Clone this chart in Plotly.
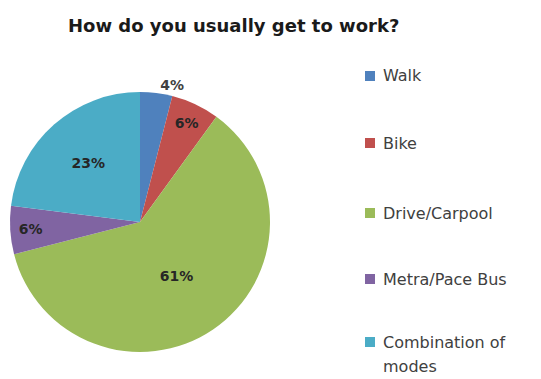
import plotly.graph_objects as go

W, H = 541, 379

categories = ["Walk", "Bike", "Drive/Carpool", "Metra/Pace Bus", "Combination of modes"]
legend_lines = [["Walk"], ["Bike"], ["Drive/Carpool"], ["Metra/Pace Bus"], ["Combination of", "modes"]]
values = [4, 6, 61, 6, 23]
colors = ["#4F81BD", "#C0504D", "#9BBB59", "#8064A2", "#4BACC6"]
text_positions = ["outside", "inside", "inside", "inside", "inside"]
title_text = "How do you usually get to work?"

def px_x(x):
    return x / W

def px_y(y):
    return 1 - y / H

fig = go.Figure()
fig.add_trace(go.Pie(
    labels=categories,
    values=values,
    sort=False,
    direction="clockwise",
    rotation=0,
    marker=dict(colors=colors, line=dict(width=0)),
    textinfo="percent",
    texttemplate="%{percent:.0%}",
    textposition=text_positions,
    insidetextorientation="horizontal",
    textfont=dict(family="DejaVu Sans", size=14, color="#262626", weight="bold"),
    outsidetextfont=dict(family="DejaVu Sans", size=14, color="#404040", weight="bold"),
    domain=dict(x=[px_x(10), px_x(270)], y=[px_y(352), px_y(92)]),
    showlegend=False,
    hole=0,
))

# manual legend
legend_centers = [76, 143, 213, 279, 342]
line_gap = 24
shapes = []
annotations = []
for lines, col, cy in zip(legend_lines, colors, legend_centers):
    shapes.append(dict(type="rect", xref="paper", yref="paper",
                       x0=px_x(365), x1=px_x(375), y0=px_y(cy + 5), y1=px_y(cy - 5),
                       fillcolor=col, line=dict(width=0)))
    for i, ln in enumerate(lines):
        annotations.append(dict(text=ln, xref="paper", yref="paper",
                                x=px_x(381), y=px_y(cy + i * line_gap), xanchor="left", yanchor="middle",
                                showarrow=False, align="left",
                                font=dict(family="DejaVu Sans", size=16, color="#404040")))

annotations.append(dict(text="<b>" + title_text + "</b>", xref="paper", yref="paper",
                        x=px_x(233), y=px_y(25), xanchor="center", yanchor="middle",
                        showarrow=False,
                        font=dict(family="DejaVu Sans", size=18, color="#1a1a1a")))

fig.update_layout(
    width=W, height=H,
    margin=dict(l=0, r=0, t=0, b=0),
    paper_bgcolor="white",
    plot_bgcolor="white",
    shapes=shapes,
    annotations=annotations,
)

fig.write_html("out.html")
